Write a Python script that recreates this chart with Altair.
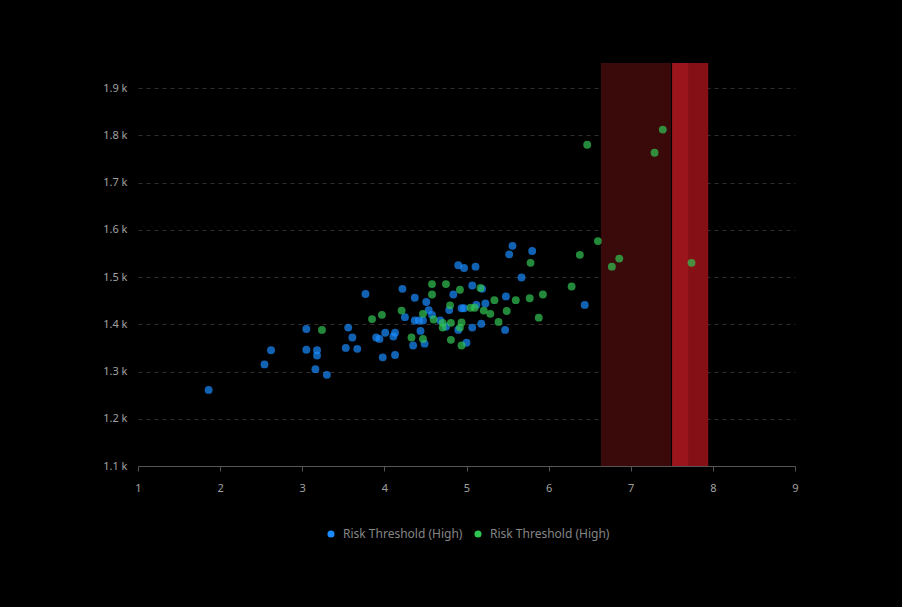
import altair as alt
import pandas as pd

# Series A (blue)
blue_x = [1.86, 2.54, 2.62, 3.05, 3.05, 3.18, 3.18, 3.16, 3.30, 3.56, 3.61, 3.53, 3.67, 3.77,
          3.90, 3.94, 4.01, 3.98, 4.13, 4.11, 4.13, 4.22, 4.25, 4.37, 4.42, 4.47, 4.44, 4.49,
          4.35, 4.37, 4.51, 4.54, 4.58, 4.68, 4.75, 4.79, 4.84, 4.90, 4.97, 4.94, 4.97, 4.90,
          5.00, 5.07, 5.11, 5.07, 5.12, 5.19, 5.18, 5.23, 5.47, 5.48, 5.52, 5.56, 5.80, 5.67, 6.44]
blue_y = [1261, 1315, 1345, 1390, 1346, 1345, 1334, 1305, 1293, 1393, 1372, 1350, 1348, 1464,
          1372, 1369, 1382, 1330, 1382, 1374, 1335, 1475, 1415, 1408, 1408, 1408, 1386, 1359,
          1355, 1456, 1447, 1430, 1420, 1408, 1395, 1430, 1463, 1525, 1519, 1434, 1434, 1388,
          1361, 1482, 1522, 1393, 1441, 1475, 1401, 1444, 1388, 1459, 1548, 1566, 1555, 1499, 1441]

# Series B (green)
green_x = [3.24, 3.85, 3.97, 4.21, 4.33, 4.47, 4.47, 4.58, 4.58, 4.60, 4.71, 4.71, 4.75, 4.80,
           4.81, 4.81, 4.92, 4.94, 4.94, 4.92, 5.05, 5.10, 5.17, 5.21, 5.29, 5.34, 5.39, 5.49,
           5.60, 5.77, 5.78, 5.88, 5.93, 6.28, 6.38, 6.47, 6.60, 6.77, 6.86, 7.29, 7.39, 7.74]
green_y = [1388, 1411, 1420, 1429, 1372, 1369, 1422, 1485, 1463, 1410, 1403, 1393, 1485, 1440,
           1367, 1403, 1473, 1404, 1355, 1393, 1435, 1435, 1477, 1429, 1422, 1451, 1405, 1428,
           1451, 1455, 1530, 1414, 1463, 1480, 1547, 1780, 1576, 1522, 1539, 1763, 1812, 1530]

series_names = ["Risk Threshold (High) A", "Risk Threshold (High) B"]
series_colors = ["#1a8cff", "#30c453"]

# Highlight bands
band_start = [6.636, 7.505, 7.505]
band_end = [7.489, 7.944, 7.70]
band_color = ["#3a0a0b", "#851116", "#9b161c"]

y_min, y_max = 1100, 1953
x_ticks = [1, 2, 3, 4, 5, 6, 7, 8, 9]
y_ticks = [1100, 1200, 1300, 1400, 1500, 1600, 1700, 1800, 1900]

pts = pd.DataFrame(
    {"x": blue_x + green_x,
     "y": blue_y + green_y,
     "s": [series_names[0]] * len(blue_x) + [series_names[1]] * len(green_x)}
)
bands = pd.DataFrame({"x": band_start, "x2": band_end, "c": band_color,
                      "y": [y_min] * 3, "y2": [y_max] * 3})

FONT = "Noto Sans"
xs = alt.Scale(domain=[1, 9], nice=False, zero=False)
ys = alt.Scale(domain=[y_min, y_max], nice=False, zero=False)

rects = alt.Chart(bands).mark_rect().encode(
    x=alt.X("x:Q", scale=xs),
    x2="x2:Q",
    y=alt.Y("y:Q", scale=ys),
    y2="y2:Q",
    color=alt.Color("c:N", scale=None),
)

points = alt.Chart(pts).mark_circle(size=62, opacity=0.7).encode(
    x=alt.X("x:Q", scale=xs, title=None,
            axis=alt.Axis(values=x_ticks, format="d", grid=False, domain=True,
                          domainColor="#555555", labelFlush=False,
                          ticks=True, tickColor="#555555", tickSize=5, labelPadding=11,
                          labelColor="#a0a0a0", labelFont=FONT, labelFontSize=11)),
    y=alt.Y("y:Q", scale=ys, title=None,
            axis=alt.Axis(values=y_ticks, grid=True, gridColor="#2e2e2e", gridDash=[4, 4],
                          domain=False, ticks=False, labelPadding=11,
                          labelExpr="format(datum.value / 1000, '.1f') + ' k'",
                          labelColor="#a0a0a0", labelFont=FONT, labelFontSize=11)),
    color=alt.Color("s:N", scale=alt.Scale(domain=series_names, range=series_colors),
                    legend=alt.Legend(title=None, orient="none", direction="horizontal",
                                      legendX=187, legendY=465,
                                      labelExpr="'Risk Threshold (High)'", labelOffset=6,
                                      symbolType="circle", symbolSize=50, symbolOpacity=1,
                                      labelColor="#858585", labelFont=FONT, labelFontSize=12,
                                      columnPadding=9)),
)

chart = alt.layer(rects, points).properties(
    width=657, height=403,
    background="#000000",
    padding={"left": 138, "top": 63, "right": 107, "bottom": 141},
    autosize=alt.AutoSizeParams(type="none"),
).configure_view(stroke=None)

chart.save("out.html", embed_options={"renderer": "svg", "actions": False})
